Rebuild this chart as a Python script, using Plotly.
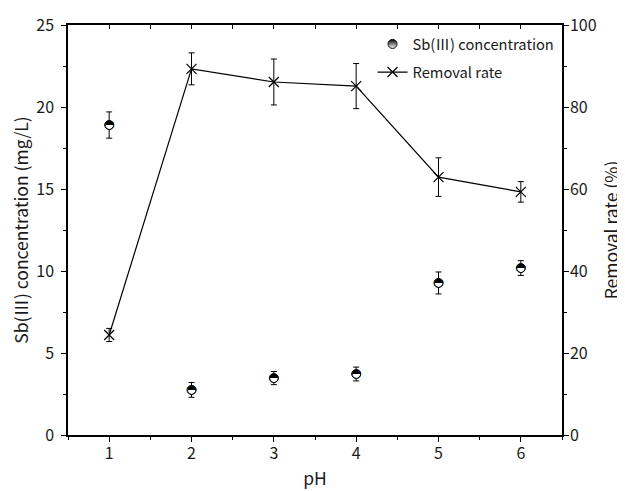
import plotly.graph_objects as go

ph = [1, 2, 3, 4, 5, 6]
sb_conc = [18.9, 2.75, 3.47, 3.72, 9.27, 10.18]
sb_err = [0.8, 0.45, 0.4, 0.42, 0.67, 0.45]
removal = [24.4, 89.3, 86.1, 85.1, 62.9, 59.3]
removal_err = [1.6, 3.9, 5.6, 5.5, 4.7, 2.5]

FONT = "Noto Sans CJK SC, Noto Sans, sans-serif"
TXT = "#1a1a1a"

fig = go.Figure()

# Sb(III) concentration: white circle base with error bars
fig.add_trace(go.Scatter(
    x=ph, y=sb_conc, mode="markers", name="Sb(Ⅲ) concentration",
    marker=dict(symbol="circle", size=9, color="white", line=dict(color="black", width=1)),
    error_y=dict(type="data", array=sb_err, color="black", thickness=1, width=3),
    showlegend=False, yaxis="y",
))
# half-filled glyph overlay
fig.add_trace(go.Scatter(
    x=ph, y=sb_conc, mode="text", text=["◓"] * len(ph),
    textposition="middle center",
    textfont=dict(family="DejaVu Sans", size=12, color="black"),
    showlegend=False, hoverinfo="skip", yaxis="y",
))
# legend entry for Sb
fig.add_trace(go.Scatter(
    x=[None], y=[None], mode="markers", name="Sb(Ⅲ) concentration",
    marker=dict(symbol="circle", size=9, color="black",
                gradient=dict(type="vertical", color="white"),
                line=dict(color="black", width=1)),
    legendgroup="a", yaxis="y",
))
# Removal rate
fig.add_trace(go.Scatter(
    x=ph, y=removal, mode="lines+markers", name="Removal rate",
    line=dict(color="black", width=1.2),
    marker=dict(symbol="x-thin-open", size=10, color="black", line=dict(color="black", width=1.2)),
    error_y=dict(type="data", array=removal_err, color="black", thickness=1, width=3),
    legendgroup="b", yaxis="y2",
))

axis_common = dict(showline=True, linecolor="black", linewidth=1.5, showgrid=False,
                   zeroline=False, ticks="outside", tickcolor="black", tickwidth=1.2,
                   ticklen=5, automargin=False,
                   tickfont=dict(family=FONT, size=16, color=TXT))

# page body has an 8px margin, so the figure is sized/offset to compensate
fig.update_layout(
    width=617, height=483,
    margin=dict(l=60, r=63, t=17, b=56, autoexpand=False),
    plot_bgcolor="white", paper_bgcolor="white",
    font=dict(family=FONT, color=TXT),
    xaxis=dict(range=[0.5, 6.5], dtick=1, tick0=1, ticklabelstandoff=-2,
               minor=dict(dtick=0.5, ticks="outside", ticklen=3, tickcolor="black"),
               title=dict(text="pH", font=dict(family=FONT, size=17.5, color=TXT), standoff=10),
               **axis_common),
    xaxis2=dict(range=[0.5, 6.5], overlaying="x", side="top", anchor="y",
                showline=True, linecolor="black", linewidth=1.5, showgrid=False,
                zeroline=False, ticks="inside", dtick=0.5, tick0=0.5, ticklen=4,
                tickcolor="black", tickwidth=1.2, showticklabels=False, automargin=False),
    yaxis=dict(range=[0, 25], dtick=5, ticklabelstandoff=4,
               minor=dict(dtick=2.5, ticks="outside", ticklen=3, tickcolor="black"),
               title=dict(text="Sb(Ⅲ) concentration (mg/L)", font=dict(family=FONT, size=17.5, color=TXT), standoff=10),
               **axis_common),
    yaxis2=dict(range=[0, 100], dtick=20, overlaying="y", side="right", anchor="x",
                ticklabelstandoff=-2,
                minor=dict(dtick=10, ticks="outside", ticklen=3, tickcolor="black"),
                title=dict(text="Removal rate (%)", font=dict(family=FONT, size=17.5, color=TXT), standoff=10),
                **axis_common),
    legend=dict(x=0.995, y=0.993, xanchor="right", yanchor="top", bgcolor="rgba(0,0,0,0)",
                font=dict(family=FONT, size=14.7, color=TXT), traceorder="grouped",
                tracegroupgap=6, itemwidth=30),
)

# dummy trace to register xaxis2 (top mirror axis with inward ticks)
fig.add_trace(go.Scatter(x=[None], y=[None], xaxis="x2", yaxis="y", showlegend=False, hoverinfo="skip"))

fig.write_html("out.html")
